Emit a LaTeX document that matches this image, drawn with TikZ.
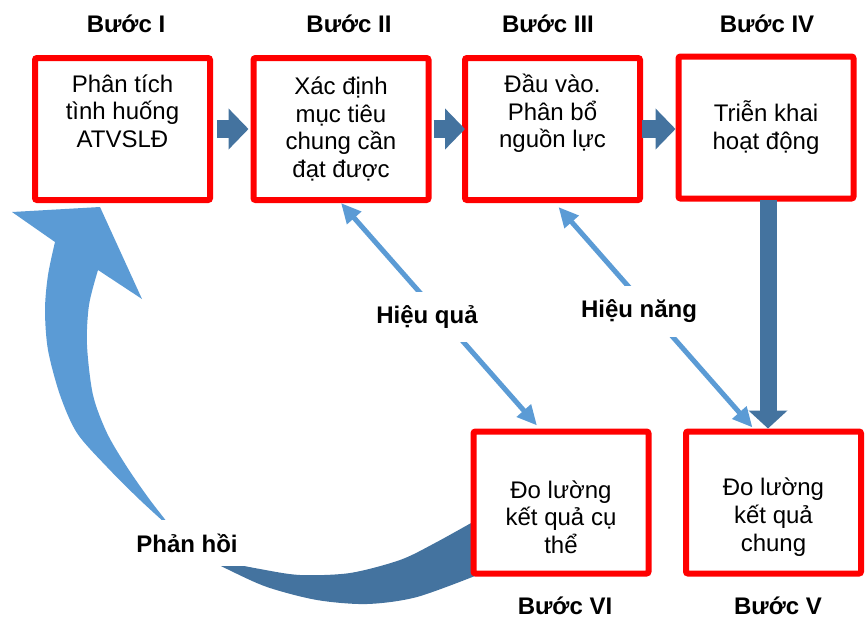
\documentclass[tikz,border=0pt]{standalone}
\usepackage{fontspec}
\setmainfont{Liberation Sans}
\usetikzlibrary{arrows.meta,positioning}
\definecolor{stepred}{HTML}{FF0000}
\definecolor{flowdark}{HTML}{44739F}
\definecolor{flowlight}{HTML}{5B9BD5}

\tikzset{
  stepbox/.style={draw=stepred, line width=3pt, fill=white, rounded corners=1pt,
    minimum width=87.5pt, minimum height=71pt, inner sep=0pt, align=center,
    font=\fontsize{12pt}{13.8pt}\selectfont},
  steplabel/.style={anchor=base, font=\bfseries\fontsize{12pt}{14pt}\selectfont},
  blockarrow/.style={flowdark, line width=9pt, -{Triangle[length=10pt,width=20pt]}},
  thinarrow/.style={flowlight, line width=2.5pt,
    {Triangle[length=10pt,width=9pt]}-{Triangle[length=10pt,width=9pt]}},
  cutlabel/.style={fill=white, inner xsep=11pt, inner ysep=7pt,
    font=\bfseries\fontsize{12pt}{14pt}\selectfont}
}

\begin{document}
\begin{tikzpicture}[x=0.5pt, y=-0.5pt]
\useasboundingbox (0,0) rectangle (868,617);
% Feedback arrow (front face)
\fill[flowlight] (55,242) -- (12,212) -- (100,207) -- (142,299)
  -- plot[smooth] coordinates {(98,270) (89,305) (87,345) (93,395) (107,433) (127,467) (150,500) (175,532)}
  -- plot[smooth] coordinates {(175,532) (140,500) (107,467) (77,433) (60,395) (48,350) (45,310) (48,275) (55,242)}
  -- cycle;
% Feedback arrow (back face)
\fill[flowdark] plot[smooth] coordinates {(190,550) (227,562) (260,569) (300,575) (350,573) (400,560) (435,543) (480,518)}
  -- plot[smooth] coordinates {(480,574) (417,597) (367,604) (317,600) (267,587) (227,569) (190,550)}
  -- cycle;
% Steps
\node[stepbox] (b1) at (122.5,129) {Phân tích\\tình huống\\ATVSLĐ\\\strut};
\node[stepbox] (b2) at (341,129) {Xác định\\mục tiêu\\chung cần\\đạt được};
\node[stepbox] (b3) at (552.5,129) {Đầu vào.\\Phân bổ\\nguồn lực\\\strut};
\node[stepbox] (b4) at (766,127.5) {Triễn khai\\hoạt động};
\node[stepbox] (b5) at (773.5,502.5) {\strut\\Đo lường\\kết quả\\chung};
\node[stepbox] (b6) at (561,502.5) {\strut\\Đo lường\\kết quả cụ\\thể};
% Step titles
\node[steplabel] (t1) at (126,32) {Bước I};
\node[steplabel] (t2) at (349,32) {Bước II};
\node[steplabel] (t3) at (548,32) {Bước III};
\node[steplabel] (t4) at (767,32) {Bước IV};
\node[steplabel] (t6) at (565,614) {Bước VI};
\node[steplabel] (t5) at (778,614) {Bước V};
% Flow between steps
\draw[blockarrow, shorten <=2pt, shorten >=1pt] (b1.east) -- (b2.west);
\draw[blockarrow, shorten <=1pt, shorten >=-1.5pt] (b2.east) -- (b3.west);
\draw[blockarrow] ([xshift=-0.5pt]b3.east) -- (b3.east -| b4.west);
\draw[blockarrow, line width=8.5pt, -{Triangle[length=9pt,width=19pt]}]
  ([xshift=1pt,yshift=1pt]b4.south) -- ([xshift=1pt]b4.south |- b5.north);
\draw[thinarrow] ([xshift=-12pt,yshift=1.5pt]b6.north) -- (b2.south);
\draw[thinarrow] ([xshift=-10.5pt,yshift=0.5pt]b5.north) -- ([xshift=3pt,yshift=-2pt]b3.south);
% Labels
\node[cutlabel] (eff) at (427,317) {Hiệu quả};
\node[cutlabel] (perf) at (639,311) {Hiệu năng};
\node[cutlabel] (fb) at (187,543) {Phản hồi};
\end{tikzpicture}
\end{document}
